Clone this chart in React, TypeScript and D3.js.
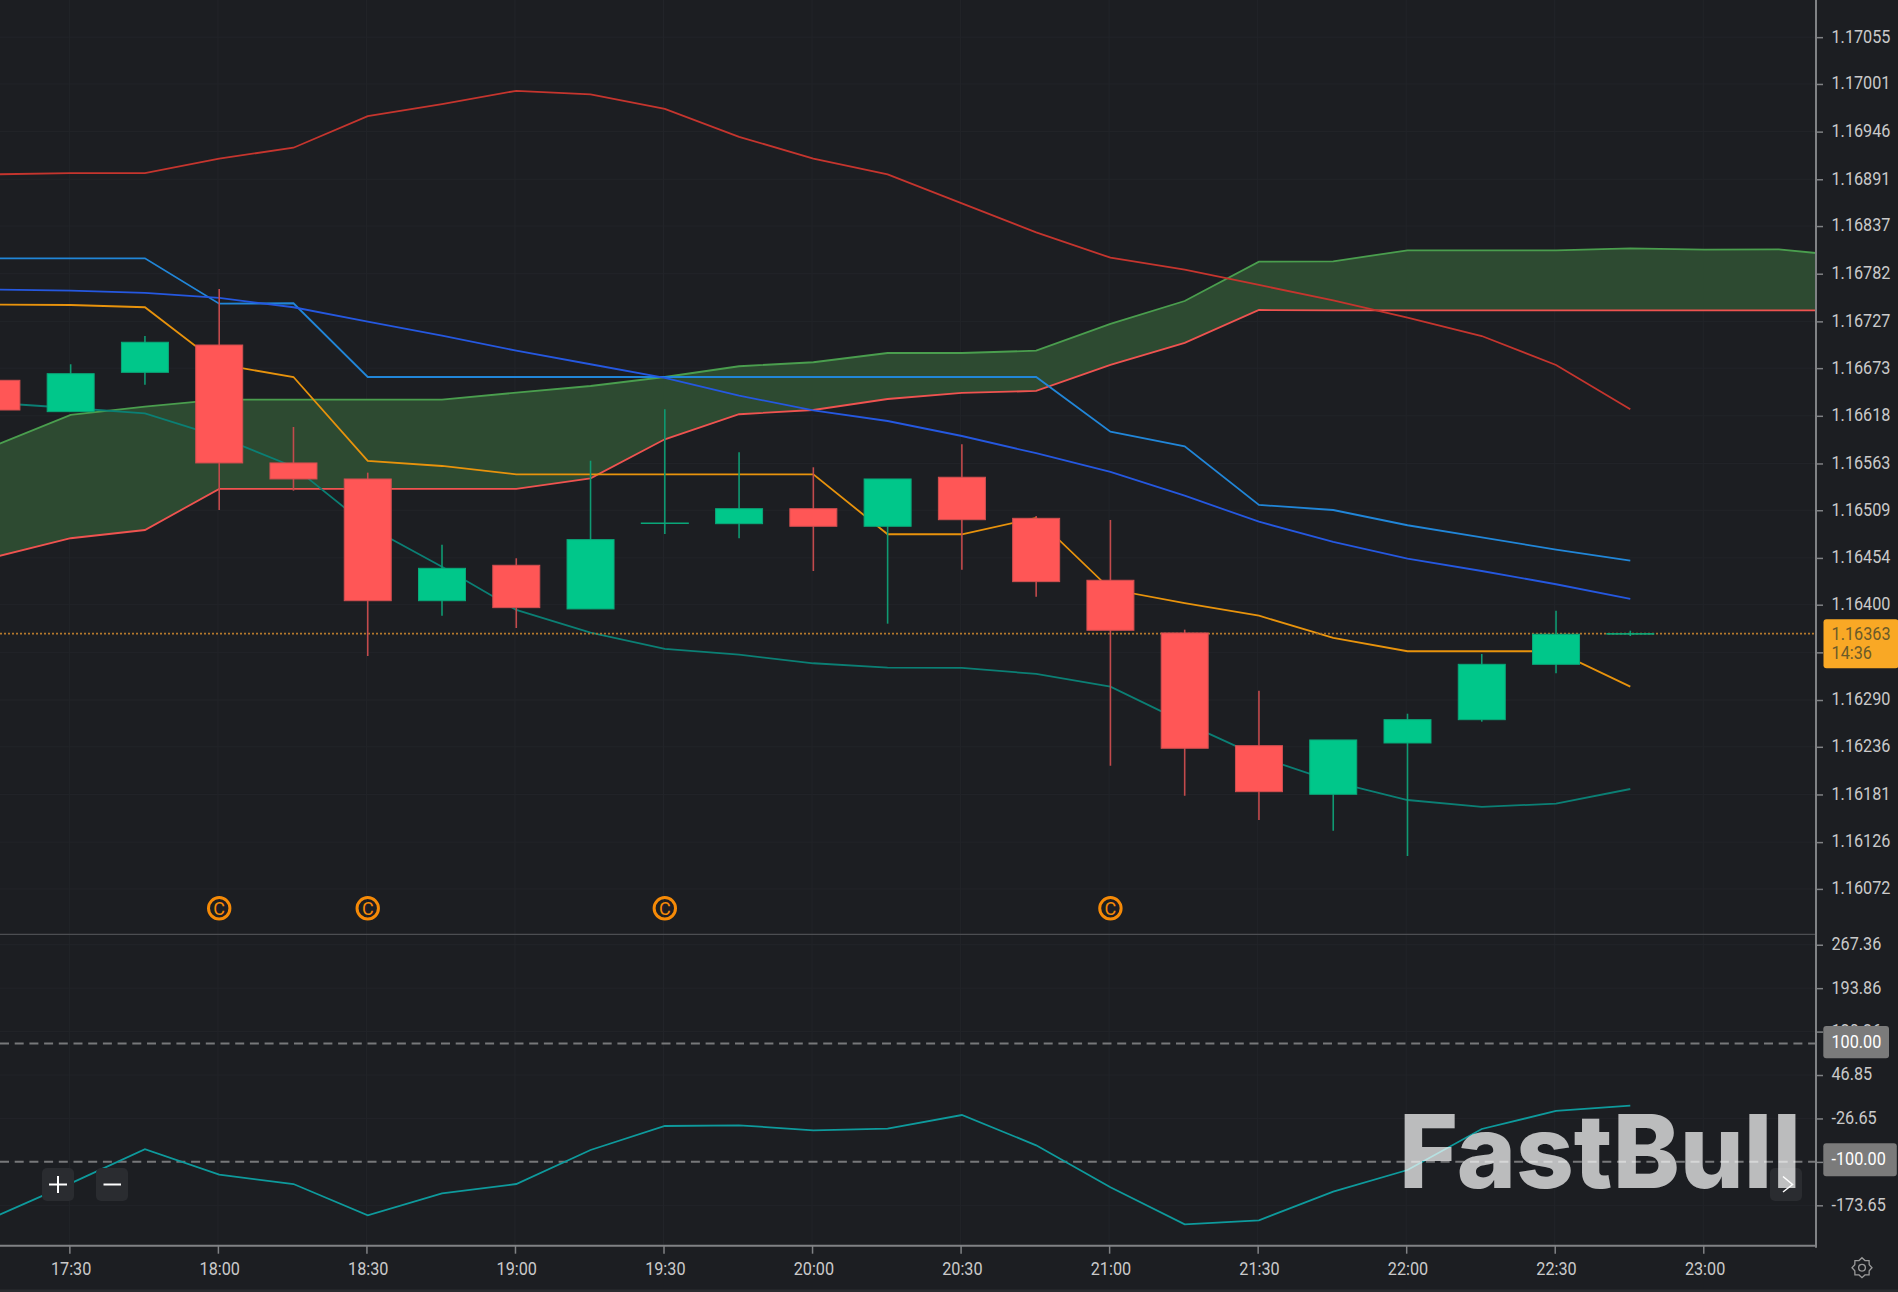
import { useRef, useEffect } from 'react';
import * as d3 from 'd3';

const times = [
  '17:15', '17:30', '17:45', '18:00', '18:15', '18:30', '18:45', '19:00', '19:15', '19:30', '19:45', '20:00',
  '20:15', '20:30', '20:45', '21:00', '21:15', '21:30', '21:45', '22:00', '22:15', '22:30', '22:45',
];
const cloudTimes = [...times, '23:00', '23:15', '23:30'];

const opens = [
  1.16659, 1.166228, 1.166682, 1.166997, 1.165636, 1.165451, 1.164046, 1.164455, 1.163951, 1.164943, 1.164935, 1.165108,
  1.164905, 1.165471, 1.164997, 1.164282, 1.163674, 1.162373, 1.161812, 1.162404, 1.162673, 1.163312, 1.163666,
];
const highs = [
  1.16659, 1.166775, 1.167101, 1.167644, 1.166051, 1.165524, 1.164693, 1.164536, 1.165662, 1.166255, 1.165759, 1.165586,
  1.165451, 1.165851, 1.165024, 1.164978, 1.163712, 1.163008, 1.162439, 1.162742, 1.163431, 1.163931, 1.1637,
];
const lows = [
  1.166247, 1.166228, 1.166539, 1.165093, 1.165316, 1.163408, 1.163873, 1.163731, 1.163951, 1.164816, 1.164767, 1.164389,
  1.163781, 1.164404, 1.164093, 1.162142, 1.161796, 1.161516, 1.161392, 1.1611, 1.16265, 1.163209, 1.163639,
];
const closes = [
  1.166247, 1.166666, 1.167029, 1.165636, 1.165451, 1.164046, 1.16442, 1.163966, 1.164751, 1.164943, 1.165108, 1.164905,
  1.165451, 1.164981, 1.164266, 1.163705, 1.162343, 1.161842, 1.162439, 1.162673, 1.163312, 1.163659, 1.163666,
];

const bandUpper = [
  1.168967, 1.168982, 1.168982, 1.169149, 1.169274, 1.169638, 1.169778, 1.169931, 1.16989, 1.169722, 1.1694, 1.169149,
  1.168967, 1.168632, 1.168297, 1.168005, 1.167866, 1.16769, 1.167513, 1.167313, 1.167101, 1.166767, 1.166255,
];
const kijun = [
  1.167998, 1.167998, 1.167998, 1.167474, 1.167479, 1.166628, 1.166628, 1.166628, 1.166628, 1.166628, 1.166628, 1.166628,
  1.166628, 1.166628, 1.166628, 1.165997, 1.165828, 1.165151, 1.165093, 1.164917, 1.164778, 1.164635, 1.164508,
];
const maLine = [
  1.167637, 1.167624, 1.167598, 1.16754, 1.167433, 1.167266, 1.167105, 1.166932, 1.166775, 1.166617, 1.166412, 1.166244,
  1.16612, 1.165947, 1.165748, 1.165532, 1.165258, 1.164958, 1.164724, 1.164531, 1.164389, 1.164236, 1.164066,
];
const tenkan = [
  1.167463, 1.167459, 1.167433, 1.166775, 1.166628, 1.165659, 1.165601, 1.165505, 1.165505, 1.165505, 1.165505, 1.165505,
  1.164813, 1.164813, 1.165001, 1.164178, 1.164017, 1.163873, 1.163616, 1.163463, 1.163463, 1.163463, 1.163054,
];
const bandLower = [
  1.166328, 1.16627, 1.166209, 1.165939, 1.165593, 1.164905, 1.164439, 1.163939, 1.163677, 1.163489, 1.163423, 1.163324,
  1.163273, 1.16327, 1.163201, 1.163054, 1.162639, 1.162246, 1.161957, 1.161746, 1.161666, 1.161704, 1.161873,
];
const spanA = [
  1.165843, 1.16619, 1.166285, 1.166366, 1.166366, 1.166366, 1.166366, 1.166447, 1.166524, 1.166628, 1.166752, 1.166798,
  1.166905, 1.166905, 1.166932, 1.16724, 1.167505, 1.167959, 1.167963, 1.16809, 1.16809, 1.16809, 1.168113, 1.168097,
  1.168102, 1.168016,
];
const spanB = [
  1.164554, 1.164767, 1.164862, 1.165336, 1.165336, 1.165336, 1.165336, 1.165336, 1.165459, 1.165909, 1.166198, 1.166247,
  1.166374, 1.166444, 1.166467, 1.166767, 1.167021, 1.167401, 1.167398, 1.167398, 1.167398, 1.167398, 1.167398, 1.167398,
  1.167398, 1.167398,
];
const cci = [
  -191.7, -136.4, -78.8, -121.8, -137.6, -190.5, -153.3, -137.6, -80, -39.4, -38.2, -46.7,
  -44, -20.8, -72.1, -143.2, -205.8, -199, -150.6, -113.9, -44.5, -14, -5.1,
];

const priceTicks = [
  1.17055, 1.17001, 1.16946, 1.16891, 1.16837, 1.16782, 1.16727, 1.16673, 1.16618, 1.16563, 1.16509, 1.16454, 1.164,
  1.16345, 1.1629, 1.16236, 1.16181, 1.16126, 1.16072,
];
const cciTicks = [267.36, 193.86, 120.36, 46.85, -26.65, -100.15, -173.65];
// these two labels sit fully behind the price tags, only their tick marks show
const hiddenTickLabels = [1.16345, -100.15];
const cciLevels = [100, -100];
const timeTicks = ['17:30', '18:00', '18:30', '19:00', '19:30', '20:00', '20:30', '21:00', '21:30', '22:00', '22:30', '23:00'];
const eventTimes = ['18:00', '18:30', '19:30', '21:00'];
const lastPrice = 1.163666;

const parseTime = d3.timeParse('%H:%M');
const t = (s: string) => parseTime(s) as Date;

const App = () => {
  const svgRef = useRef<SVGSVGElement>(null);

  useEffect(() => {
    if (!svgRef.current) return;

    const width = 1898;
    const height = 1292;
    const plotRight = 1816;
    const mainBottom = 934.3;
    const subBottom = 1245.7;
    const tickShift = -1.3; // ticks sit a little left of the candle centres

    const svg = d3.select(svgRef.current).attr('width', width).attr('height', height);
    svg.selectAll('*').remove();

    const x = d3.scaleTime().domain([t('18:00'), t('22:45')]).range([219.2, 1630.3]);
    const y = d3.scaleLinear().domain([1.160196, 1.170979]).range([mainBottom, 0]);
    const yCci = d3.scaleLinear().domain([-242, 285]).range([subBottom, mainBottom]);

    svg.append('rect').attr('width', width).attr('height', height).attr('fill', '#1c1e22');
    svg.append('rect').attr('y', 1289.5).attr('width', width).attr('height', 2.5).attr('fill', '#2a2c30');

    const defs = svg.append('defs');
    defs.append('clipPath').attr('id', 'plot').append('rect').attr('width', plotRight).attr('height', mainBottom);
    defs
      .append('clipPath')
      .attr('id', 'sub')
      .append('rect')
      .attr('y', mainBottom)
      .attr('width', plotRight)
      .attr('height', subBottom - mainBottom);

    // grid
    const grid = svg.append('g').attr('stroke', '#222429').attr('stroke-width', 1);
    priceTicks.forEach((d) => {
      grid.append('line').attr('x1', 0).attr('x2', plotRight).attr('y1', y(d)).attr('y2', y(d));
    });
    cciTicks.forEach((d) => {
      grid.append('line').attr('x1', 0).attr('x2', plotRight).attr('y1', yCci(d)).attr('y2', yCci(d));
    });
    timeTicks.forEach((d) => {
      const px = x(t(d)) + tickShift;
      grid.append('line').attr('x1', px).attr('x2', px).attr('y1', 0).attr('y2', subBottom);
    });

    const plot = svg.append('g').attr('clip-path', 'url(#plot)');

    // cloud
    const area = d3
      .area<number>()
      .x((_, i) => x(t(cloudTimes[i])))
      .y0((_, i) => y(spanB[i]))
      .y1((d) => y(d));
    plot.append('path').attr('d', area(spanA)).attr('fill', '#2d4a31');

    const line = d3
      .line<number>()
      .x((_, i) => x(t(cloudTimes[i])))
      .y((d) => y(d));

    const series: [number[], string][] = [
      [spanA, '#4a9e4e'],
      [spanB, '#ef5350'],
      [bandUpper, '#c5352e'],
      [kijun, '#2186d8'],
      [maLine, '#2558e0'],
      [tenkan, '#e8930c'],
      [bandLower, '#0b7f74'],
    ];
    series.forEach(([values, color]) => {
      plot
        .append('path')
        .attr('d', line(values))
        .attr('fill', 'none')
        .attr('stroke', color)
        .attr('stroke-width', 1.8);
    });

    // last price
    plot
      .append('line')
      .attr('x1', 0)
      .attr('x2', plotRight)
      .attr('y1', y(lastPrice))
      .attr('y2', y(lastPrice))
      .attr('stroke', '#b5792c')
      .attr('stroke-width', 1.6)
      .attr('stroke-dasharray', '2 2');

    // candles
    const bodyWidth = 47;
    times.forEach((time, i) => {
      const up = closes[i] >= opens[i];
      const cx = x(t(time));
      const top = y(Math.max(opens[i], closes[i]));
      const bottom = y(Math.min(opens[i], closes[i]));
      plot
        .append('line')
        .attr('x1', cx)
        .attr('x2', cx)
        .attr('y1', y(highs[i]))
        .attr('y2', y(lows[i]))
        .attr('stroke', up ? '#0f9a72' : '#c24a4c')
        .attr('stroke-width', 1.6);
      plot
        .append('rect')
        .attr('x', cx - bodyWidth / 2)
        .attr('y', top)
        .attr('width', bodyWidth)
        .attr('height', Math.max(bottom - top, 0.5))
        .attr('fill', up ? '#00c78a' : '#ff5656')
        .attr('stroke', up ? '#0aa87a' : '#d24f50')
        .attr('stroke-width', 1);
    });

    // event markers
    eventTimes.forEach((d) => {
      const g = plot.append('g').attr('transform', `translate(${x(t(d))}, 908.3)`);
      g.append('circle').attr('r', 10.7).attr('fill', 'none').attr('stroke', '#f58a07').attr('stroke-width', 3);
      g.append('text')
        .attr('text-anchor', 'middle')
        .attr('y', 6.6)
        .attr('fill', '#f58a07')
        .style('font', '18px Roboto')
        .text('C');
    });

    // lower panel
    const sub = svg.append('g').attr('clip-path', 'url(#sub)');
    cciLevels.forEach((d) => {
      sub
        .append('line')
        .attr('x1', 0)
        .attr('x2', plotRight)
        .attr('y1', yCci(d))
        .attr('y2', yCci(d))
        .attr('stroke', '#77787a')
        .attr('stroke-width', 2)
        .attr('stroke-dasharray', '9 5.7');
    });
    const cciLine = d3
      .line<number>()
      .x((_, i) => x(t(times[i])))
      .y((d) => yCci(d));
    sub
      .append('path')
      .attr('d', cciLine(cci))
      .attr('fill', 'none')
      .attr('stroke', '#0e9a9c')
      .attr('stroke-width', 1.8);

    // panel borders
    svg
      .append('line')
      .attr('x1', 0)
      .attr('x2', plotRight)
      .attr('y1', mainBottom)
      .attr('y2', mainBottom)
      .attr('stroke', '#4c4e52')
      .attr('stroke-width', 1.2);

    // axes
    const narrow = (el: SVGTextElement) => {
      el.setAttribute('textLength', String(el.getComputedTextLength() * 0.9));
      el.setAttribute('lengthAdjust', 'spacingAndGlyphs');
    };
    const styleAxis = (g: d3.Selection<SVGGElement, unknown, null, undefined>) => {
      g.select('.domain').remove();
      g.selectAll('line').attr('stroke', '#808285').attr('stroke-width', 1.5);
      g.selectAll<SVGTextElement, unknown>('text')
        .attr('fill', '#cacaca')
        .style('font', '18px Roboto')
        .each(function () {
          if (this.textContent) narrow(this);
        });
    };
    const tickLabel = (digits: number) => (d: d3.NumberValue) =>
      hiddenTickLabels.includes(d as number) ? '' : (d as number).toFixed(digits);

    const priceAxis = svg.append('g').attr('transform', `translate(${plotRight}, 0)`);
    priceAxis.call(d3.axisRight(y).tickValues(priceTicks).tickFormat(tickLabel(5)).tickSize(7).tickPadding(8.5));
    styleAxis(priceAxis);
    priceAxis.selectAll('text').attr('dy', '0.27em');

    const cciAxis = svg.append('g').attr('transform', `translate(${plotRight}, 0)`);
    cciAxis.call(d3.axisRight(yCci).tickValues(cciTicks).tickFormat(tickLabel(2)).tickSize(7).tickPadding(8.5));
    styleAxis(cciAxis);
    cciAxis.selectAll('text').attr('dy', '0.27em');

    const timeAxis = svg.append('g').attr('transform', `translate(0, ${subBottom})`);
    timeAxis.call(
      d3
        .axisBottom(x)
        .tickValues(timeTicks.map(t))
        .tickFormat((d) => d3.timeFormat('%H:%M')(d as Date))
        .tickSize(8)
        .tickPadding(9),
    );
    styleAxis(timeAxis);
    timeAxis.selectAll('.tick line').attr('x1', tickShift).attr('x2', tickShift);

    svg
      .append('line')
      .attr('x1', 0)
      .attr('x2', plotRight + 1)
      .attr('y1', subBottom)
      .attr('y2', subBottom)
      .attr('stroke', '#808285')
      .attr('stroke-width', 2);
    svg
      .append('line')
      .attr('x1', plotRight)
      .attr('x2', plotRight)
      .attr('y1', 0)
      .attr('y2', subBottom + 2)
      .attr('stroke', '#808285')
      .attr('stroke-width', 2);

    // price tags
    const tag = (tx: number, ty: number, w: number, h: number, fill: string) =>
      svg.append('rect').attr('x', tx).attr('y', ty).attr('width', w).attr('height', h).attr('rx', 3).attr('fill', fill);
    const tagText = (tx: number, ty: number, s: string, fill: string) =>
      svg
        .append('text')
        .attr('x', tx)
        .attr('y', ty)
        .attr('fill', fill)
        .style('font', '18px Roboto')
        .text(s)
        .each(function () {
          narrow(this);
        });

    tag(1823.5, 619.3, 75, 49, '#f9a825');
    tagText(1831.6, 640, '1.16363', '#6a5a2a');
    tagText(1831.6, 659, '14:36', '#6a5a2a');
    tag(1823.3, 1026, 65.7, 32.3, '#7b7b7b');
    tagText(1831.5, 1048, '100.00', '#ffffff');
    tag(1823.3, 1143.3, 73.5, 33, '#7b7b7b');
    tagText(1831.5, 1165, '-100.00', '#ffffff');

    // buttons go under the watermark, their icons over it
    const button = (bx: number) =>
      svg
        .append('rect')
        .attr('x', bx)
        .attr('y', 1168)
        .attr('width', 32)
        .attr('height', 33)
        .attr('rx', 5)
        .attr('fill', '#2a2c30');
    button(42);
    button(96);
    button(1770);

    // watermark
    svg
      .append('text')
      .attr('x', 1399)
      .attr('y', 1188.3)
      .attr('fill', '#ffffff')
      .attr('fill-opacity', 0.7)
      .attr('textLength', 402)
      .attr('lengthAdjust', 'spacingAndGlyphs')
      .style('font', '800 102px Inter')
      .text('FastBull');

    const icons = svg.append('g').attr('stroke', '#ffffff').attr('stroke-width', 2).attr('fill', 'none');
    icons.append('path').attr('d', 'M49 1184.5H67M58 1176V1193');
    icons.append('path').attr('d', 'M103.5 1184.5H121');
    icons.append('path').attr('d', 'M1783 1176.5L1792.5 1184.5L1783 1192').attr('stroke-width', 1.5);

    // settings gear
    const gearRadii = d3.range(16).map((i) => (i % 2 === 0 ? 10 : 7.8));
    const gear = d3
      .lineRadial<number>()
      .angle((_, i) => (i * Math.PI) / 8)
      .radius((d) => d)
      .curve(d3.curveLinearClosed);
    const gearGroup = svg
      .append('g')
      .attr('transform', 'translate(1862, 1267.7)')
      .attr('fill', 'none')
      .attr('stroke', '#9a9a9a')
      .attr('stroke-width', 1.3);
    gearGroup.append('path').attr('d', gear(gearRadii));
    gearGroup.append('circle').attr('r', 3.4);
  }, []);

  return <svg ref={svgRef} style={{ position: 'absolute', left: 0, top: 0, display: 'block' }}></svg>;
};

export default App;
